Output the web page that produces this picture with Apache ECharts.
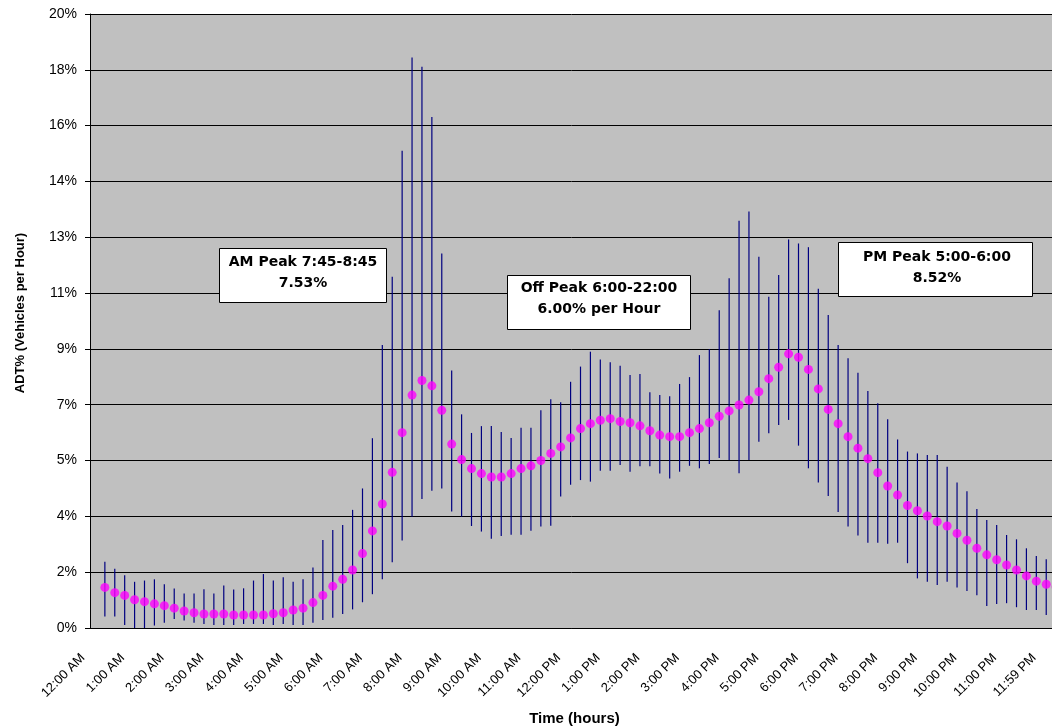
<!DOCTYPE html>
<html>
<head>
<meta charset="utf-8">
<title>ADT% by time of day</title>
<script src="https://cdn.jsdelivr.net/npm/echarts@6/dist/echarts.min.js"></script>
<style>
    html, body { margin: 0; padding: 0; background: #fff; }
    #main { width: 1052px; height: 728px; }
</style>
</head>
<body>
<div id="main"></div>
<script>
// 15 分钟一个点
var times = [
    '12:00 AM', '12:15 AM', '12:30 AM', '12:45 AM', '1:00 AM', '1:15 AM', '1:30 AM', '1:45 AM',
    '2:00 AM', '2:15 AM', '2:30 AM', '2:45 AM', '3:00 AM', '3:15 AM', '3:30 AM', '3:45 AM',
    '4:00 AM', '4:15 AM', '4:30 AM', '4:45 AM', '5:00 AM', '5:15 AM', '5:30 AM', '5:45 AM',
    '6:00 AM', '6:15 AM', '6:30 AM', '6:45 AM', '7:00 AM', '7:15 AM', '7:30 AM', '7:45 AM',
    '8:00 AM', '8:15 AM', '8:30 AM', '8:45 AM', '9:00 AM', '9:15 AM', '9:30 AM', '9:45 AM',
    '10:00 AM', '10:15 AM', '10:30 AM', '10:45 AM', '11:00 AM', '11:15 AM', '11:30 AM', '11:45 AM',
    '12:00 PM', '12:15 PM', '12:30 PM', '12:45 PM', '1:00 PM', '1:15 PM', '1:30 PM', '1:45 PM',
    '2:00 PM', '2:15 PM', '2:30 PM', '2:45 PM', '3:00 PM', '3:15 PM', '3:30 PM', '3:45 PM',
    '4:00 PM', '4:15 PM', '4:30 PM', '4:45 PM', '5:00 PM', '5:15 PM', '5:30 PM', '5:45 PM',
    '6:00 PM', '6:15 PM', '6:30 PM', '6:45 PM', '7:00 PM', '7:15 PM', '7:30 PM', '7:45 PM',
    '8:00 PM', '8:15 PM', '8:30 PM', '8:45 PM', '9:00 PM', '9:15 PM', '9:30 PM', '9:45 PM',
    '10:00 PM', '10:15 PM', '10:30 PM', '10:45 PM', '11:00 PM', '11:15 PM', '11:30 PM', '11:45 PM',
    '11:59 PM'
]

// 平均值 (%)
var meanPct = [
    1.31, 1.14, 1.05, 0.91, 0.85, 0.78, 0.72, 0.64, 0.55, 0.49, 0.45, 0.45, 0.45, 0.42, 0.42, 0.42,
    0.42, 0.46, 0.49, 0.58, 0.64, 0.82, 1.05, 1.35, 1.57, 1.87, 2.40, 3.13, 4.00, 5.02, 6.30, 7.51,
    7.98, 7.81, 7.02, 5.93, 5.43, 5.14, 4.98, 4.87, 4.87, 4.98, 5.14, 5.23, 5.40, 5.63, 5.84, 6.13,
    6.43, 6.59, 6.70, 6.75, 6.66, 6.62, 6.52, 6.36, 6.22, 6.17, 6.17, 6.30, 6.43, 6.62, 6.83, 7.00,
    7.19, 7.35, 7.62, 8.04, 8.41, 8.84, 8.73, 8.34, 7.71, 7.05, 6.59, 6.17, 5.80, 5.46, 5.01, 4.58,
    4.29, 3.95, 3.78, 3.61, 3.43, 3.29, 3.05, 2.83, 2.57, 2.36, 2.20, 2.03, 1.87, 1.68, 1.51, 1.41,
    1.33
]

// 误差线上端 (%)
var upperPct = [
    2.14, 1.91, 1.70, 1.49, 1.53, 1.57, 1.41, 1.27, 1.11, 1.11, 1.25, 1.11, 1.37, 1.24, 1.28, 1.53,
    1.74, 1.53, 1.64, 1.49, 1.57, 1.95, 2.84, 3.16, 3.32, 3.81, 4.50, 6.12, 9.13, 11.33, 15.39, 18.40,
    18.10, 16.48, 12.08, 8.30, 6.89, 6.29, 6.51, 6.51, 6.32, 6.13, 6.46, 6.46, 7.02, 7.38, 7.28, 7.94,
    8.43, 8.91, 8.66, 8.57, 8.46, 8.16, 8.19, 7.60, 7.51, 7.47, 7.87, 8.09, 8.80, 8.99, 10.25, 11.28,
    13.13, 13.43, 11.97, 10.68, 11.38, 12.53, 12.40, 12.28, 10.94, 10.09, 9.13, 8.70, 8.23, 7.64, 7.25, 6.73,
    6.08, 5.69, 5.63, 5.58, 5.58, 5.20, 4.69, 4.41, 3.84, 3.48, 3.32, 3.00, 2.86, 2.57, 2.32, 2.22,
    2.15
]

// 误差线下端 (%)
var lowerPct = [
    0.37, 0.37, 0.10, 0.00, 0.00, 0.08, 0.17, 0.29, 0.24, 0.17, 0.13, 0.10, 0.10, 0.10, 0.13, 0.13,
    0.13, 0.10, 0.13, 0.10, 0.10, 0.17, 0.26, 0.33, 0.45, 0.60, 0.83, 1.09, 1.57, 2.12, 2.82, 3.59,
    4.16, 4.43, 4.50, 3.76, 3.59, 3.29, 3.11, 2.88, 2.97, 3.01, 3.01, 3.14, 3.27, 3.30, 4.24, 4.62,
    4.77, 4.72, 5.07, 5.07, 5.26, 5.04, 5.22, 5.22, 4.98, 4.82, 5.04, 5.23, 5.15, 5.29, 5.48, 5.42,
    4.99, 5.42, 6.01, 6.28, 6.55, 6.71, 5.88, 5.15, 4.69, 4.26, 3.74, 3.27, 2.98, 2.75, 2.75, 2.72,
    2.75, 2.09, 1.60, 1.49, 1.39, 1.49, 1.31, 1.19, 1.06, 0.71, 0.77, 0.80, 0.67, 0.58, 0.58, 0.42,
    0.45
]

// 注释框
var notes = [
    { text: 'AM Peak 7:45-8:45\n7.53%', box: [219, 248, 167, 54], cx: 303, cy: 273 },
    { text: 'Off Peak 6:00-22:00\n6.00% per Hour', box: [507, 275, 183, 54], cx: 599, cy: 299 },
    { text: 'PM Peak 5:00-6:00\n8.52%', box: [838, 242, 194, 54], cx: 937, cy: 267.5 }
]

var myChart = echarts.init(document.getElementById('main'))

// 前后各留一个空类目，和原图一样
var cats = [''].concat(times, [''])
var dots = []
var bars = []
for (var i = 0; i < times.length; i++) {
    dots.push([i + 1, meanPct[i]])
    bars.push([i + 1, lowerPct[i], upperPct[i]])
}

var font = '"Liberation Sans", Arial, sans-serif'

var graphics = []
notes.forEach(function(n) {
    graphics.push({
        type: 'rect',
        z: 100,
        shape: { x: n.box[0] + 0.5, y: n.box[1] + 0.5, width: n.box[2], height: n.box[3] },
        style: { fill: '#fff', stroke: '#000', lineWidth: 1 }
    })
    graphics.push({
        type: 'text',
        z: 101,
        x: n.cx,
        y: n.cy,
        style: {
            text: n.text,
            font: 'bold 14px "DejaVu Sans", sans-serif',
            fill: '#000',
            align: 'center',
            verticalAlign: 'middle',
            textAlign: 'center',
            textVerticalAlign: 'middle',
            lineHeight: 21
        }
    })
})

var option = {
    animation: false,
    grid: {
        left: 90,
        top: 14,
        right: -19,
        height: 614,
        outerBoundsMode: 'none',
        containLabel: false,
        show: true,
        backgroundColor: '#c0c0c0',
        borderWidth: 0
    },
    xAxis: [{
        type: 'category',
        data: cats,
        position: 'bottom',
        name: 'Time (hours)',
        nameLocation: 'middle',
        nameGap: 83,
        nameTextStyle: { fontFamily: font, fontSize: 15, fontWeight: 'bold', color: '#000', padding: [0, 12, 0, 0] },
        axisLine: { lineStyle: { color: '#000', width: 1 } },
        axisTick: { interval: 0, length: 4, lineStyle: { color: '#000' } },
        axisLabel: {
            interval: function(idx) { return idx >= 1 && (idx - 1) % 4 === 0 },
            rotate: 45,
            margin: 6,
            padding: [0, 31, 0, 0],
            fontFamily: font,
            fontSize: 13,
            color: '#000'
        },
        splitLine: { show: false }
    }, {
        // 长刻度 (每两个)
        type: 'category',
        data: cats,
        position: 'bottom',
        axisLine: { show: false },
        axisTick: { interval: 1, inside: true, length: 5, lineStyle: { color: '#000' } },
        axisLabel: { show: false },
        splitLine: { show: false }
    }],
    yAxis: {
        type: 'value',
        min: 0,
        max: 19.8,
        interval: 1.8,
        name: 'ADT% (Vehicles per Hour)',
        nameLocation: 'middle',
        nameGap: 63,
        nameTextStyle: { fontFamily: font, fontSize: 13, fontWeight: 'bold', color: '#000', padding: [0, 0, 0, 16] },
        axisLine: { show: true, lineStyle: { color: '#000', width: 1 } },
        axisTick: { show: true, length: 5, lineStyle: { color: '#000' } },
        axisLabel: {
            margin: 13,
            fontFamily: font,
            fontSize: 14,
            color: '#000',
            formatter: function(v) { return Math.round(v) + '%' }
        },
        splitLine: { show: true, lineStyle: { color: '#000', width: 1 } }
    },
    series: [{
        name: 'range',
        type: 'custom',
        z: 2,
        data: bars,
        encode: { x: 0, y: [1, 2] },
        renderItem: function(params, api) {
            var lo = api.coord([api.value(0), api.value(1)])
            var hi = api.coord([api.value(0), api.value(2)])
            return {
                type: 'line',
                shape: { x1: lo[0], y1: lo[1], x2: hi[0], y2: hi[1] },
                style: { stroke: '#000080', lineWidth: 1.2 }
            }
        }
    }, {
        name: 'ADT%',
        type: 'scatter',
        z: 3,
        data: dots,
        symbol: 'circle',
        symbolSize: 9,
        itemStyle: { color: '#ff00ff' }
    }],
    graphic: graphics
}

myChart.setOption(option)
</script>
</body>
</html>
